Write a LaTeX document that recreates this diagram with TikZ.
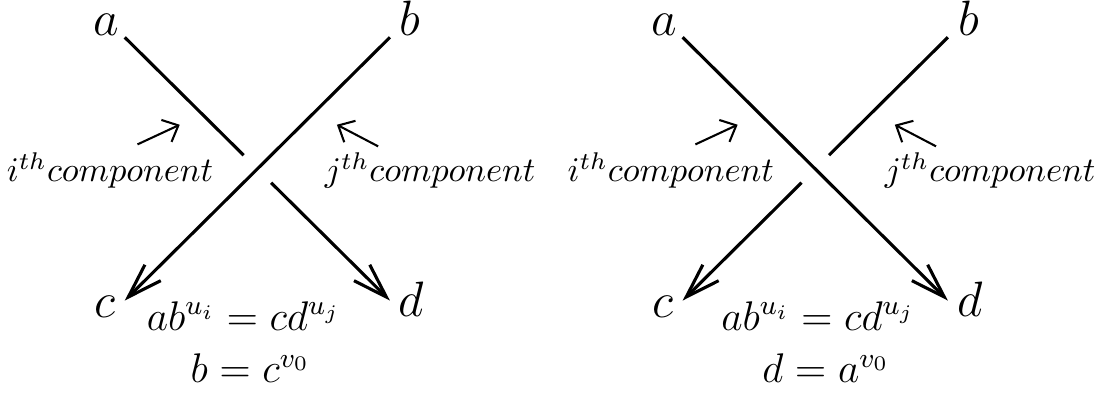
\documentclass[tikz,border=0pt]{standalone}
\usepackage{tikz}
\usetikzlibrary{arrows.meta,calc}

\begin{document}
\begin{tikzpicture}[
    strand/.style={line width=0.9pt,-{Straight Barb[length=10pt,width=6.5pt]}},
    piece/.style={line width=0.9pt},
    pointer/.style={line width=0.6pt,-{Straight Barb[length=3.8pt,width=7pt]}},
    endlabel/.style={font=\Large},
    eqlabel/.style={font=\large,anchor=base}
  ]
  \useasboundingbox (0,0) rectangle (11.24,4.01);

  % left crossing: b over a
  \coordinate (aL) at (1.27,3.63);
  \coordinate (bL) at (3.97,3.63);
  \coordinate (cL) at (1.27,0.95);
  \coordinate (dL) at (3.97,0.95);
  \coordinate (xL) at (2.62,2.29);
  \coordinate (gapLa) at ($(xL)+(-0.14,0.14)$);
  \coordinate (gapLb) at ($(xL)+(0.14,-0.14)$);
  \draw[strand] (bL) -- (cL);
  \draw[piece] (aL) -- (gapLa);
  \draw[strand] (gapLb) -- (dL);

  \node[endlabel] (la) at (1.08,3.76) {$a$};
  \node[endlabel] (lb) at (4.17,3.82) {$b$};
  \node[endlabel] (lc) at (1.07,0.89) {$c$};
  \node[endlabel] (ld) at (4.19,0.96) {$d$};

  \node[anchor=base] (compLi) at (1.12,2.16) {$i^{th}component$};
  \node[anchor=base] (compLj) at (4.38,2.16) {$j^{th}component$};
  \coordinate (pLi1) at (1.40,2.54);
  \coordinate (pLi2) at (1.83,2.74);
  \coordinate (pLj1) at (3.85,2.52);
  \coordinate (pLj2) at (3.43,2.74);
  \draw[pointer] (pLi1) -- (pLi2);
  \draw[pointer] (pLj1) -- (pLj2);

  \node[eqlabel] (eqL1) at (2.48,0.65) {$ab^{u_i}=cd^{u_j}$};
  \node[eqlabel] (eqL2) at (2.55,0.12) {$b=c^{v_0}$};

  % right crossing: a over b
  \coordinate (aR) at (6.95,3.63);
  \coordinate (bR) at (9.65,3.63);
  \coordinate (cR) at (6.95,0.95);
  \coordinate (dR) at (9.65,0.95);
  \coordinate (xR) at (8.30,2.29);
  \coordinate (gapRb) at ($(xR)+(0.14,0.14)$);
  \coordinate (gapRc) at ($(xR)+(-0.14,-0.14)$);
  \draw[strand] (aR) -- (dR);
  \draw[piece] (bR) -- (gapRb);
  \draw[strand] (gapRc) -- (cR);

  \node[endlabel] (ra) at (6.76,3.76) {$a$};
  \node[endlabel] (rb) at (9.86,3.82) {$b$};
  \node[endlabel] (rc) at (6.75,0.89) {$c$};
  \node[endlabel] (rd) at (9.88,0.96) {$d$};

  \node[anchor=base] (compRi) at (6.83,2.16) {$i^{th}component$};
  \node[anchor=base] (compRj) at (10.08,2.16) {$j^{th}component$};
  \coordinate (pRi1) at (7.08,2.54);
  \coordinate (pRi2) at (7.51,2.74);
  \coordinate (pRj1) at (9.53,2.52);
  \coordinate (pRj2) at (9.11,2.74);
  \draw[pointer] (pRi1) -- (pRi2);
  \draw[pointer] (pRj1) -- (pRj2);

  \node[eqlabel] (eqR1) at (8.33,0.65) {$ab^{u_i}=cd^{u_j}$};
  \node[eqlabel] (eqR2) at (8.41,0.12) {$d=a^{v_0}$};
\end{tikzpicture}
\end{document}
